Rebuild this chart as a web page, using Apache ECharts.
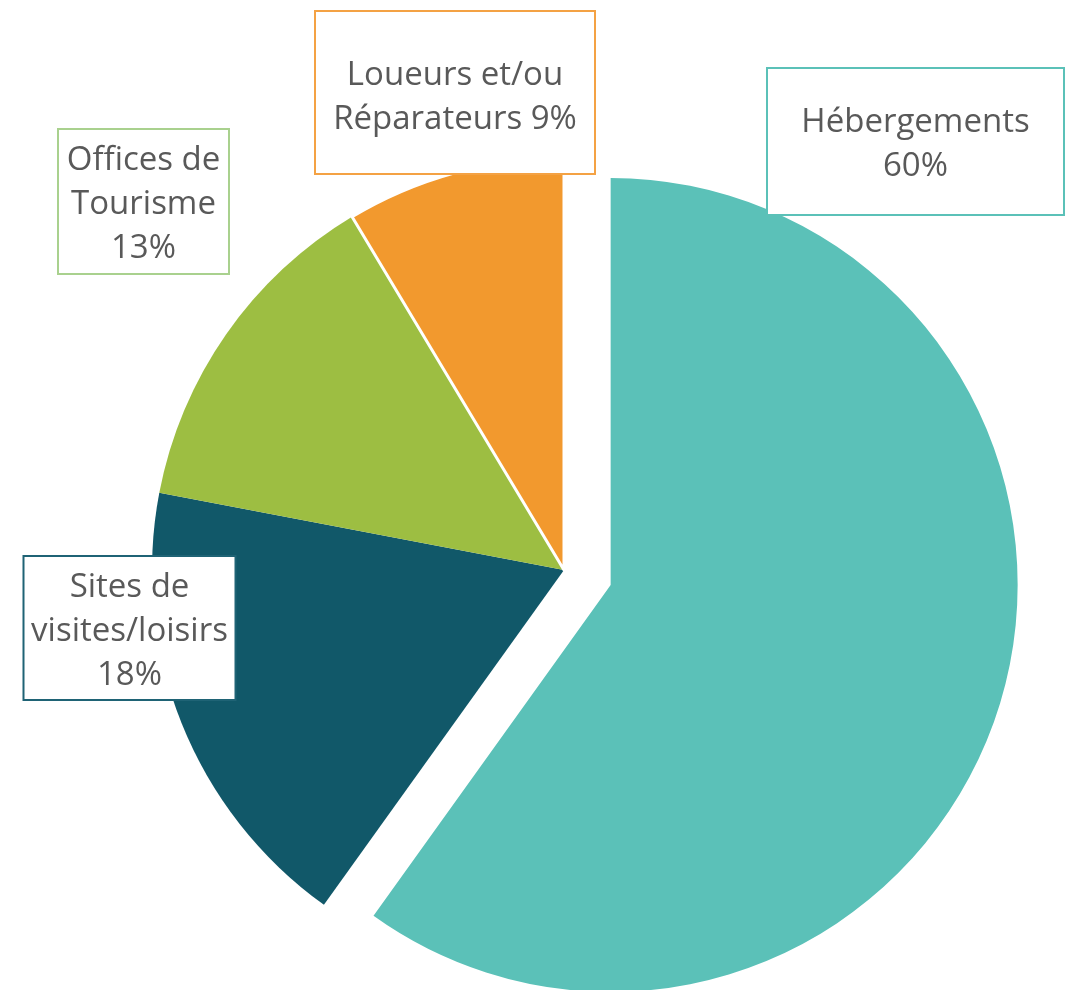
<!DOCTYPE html>
<html>
<head>
<meta charset="utf-8">
<script src="https://cdn.jsdelivr.net/npm/echarts@6/dist/echarts.min.js"></script>
<style>
  html, body { margin: 0; padding: 0; background: #fff; }
  #chart { width: 1065px; height: 990px; }
</style>
</head>
<body>
<div id="chart"></div>
<script>
// données
const categories = ["Hébergements", "Sites de\nvisites/loisirs", "Offices de\nTourisme", "Loueurs et/ou\nRéparateurs"];
const values = [59.9, 18.1, 13.4, 8.6];
const percentLabels = [60, 18, 13, 9];
const separators = ["\n", "\n", "\n", " "];
const exploded = [true, false, false, false];

// styles
const colors = ["#5BC1B8", "#115869", "#9DBE42", "#F2992E"];
const boxBorders = ["#5BC1B8", "#1F6375", "#A9D18E", "#F4A244"];
// [centre x, haut de la boîte]
const boxAnchors = [[915.5, 69], [129.5, 557], [143.5, 130], [455, 12]];
const boxWidths = [295, 210, 169, 278];
const boxPad = [[32, 0, 25, 0], [8.5, 0, 1.5, 0], [8.5, 0, 2.5, 0], [42, 0, 31, 0]];

const chart = echarts.init(document.getElementById("chart"));

const pieCenter = [564, 570];
const pieRadius = 412;
const explodedRadius = 407;
const explodeOffset = 49;

// décalage de la part détachée, le long de sa bissectrice
function explodedCenter() {
  const total = values.reduce((a, b) => a + b, 0);
  let start = 0;
  for (let i = 0; i < values.length; i++) {
    if (exploded[i]) {
      const mid = (start + values[i] / 2) / total * Math.PI * 2;
      return [pieCenter[0] + Math.sin(mid) * explodeOffset, pieCenter[1] - Math.cos(mid) * explodeOffset];
    }
    start += values[i];
  }
  return pieCenter;
}

function buildData(showExploded) {
  return categories.map((name, i) => {
    const visible = exploded[i] === showExploded;
    return {
      name: name,
      value: values[i],
      itemStyle: {
        color: visible ? colors[i] : "rgba(0,0,0,0)",
        borderColor: "#fff",
        borderWidth: visible && i === 3 ? 3 : 0
      },
      label: {
        show: visible,
        formatter: name + separators[i] + percentLabels[i] + "%",
        borderColor: boxBorders[i],
        width: boxWidths[i],
        padding: boxPad[i]
      }
    };
  });
}

const baseSeries = {
  type: "pie",
  startAngle: 90,
  clockwise: true,
  avoidLabelOverlap: false,
  silent: true,
  label: {
    show: true,
    color: "#595959",
    fontFamily: "Open Sans",
    fontSize: 33,
    lineHeight: 44,
    align: "center",
    backgroundColor: "#fff",
    borderWidth: 2,
    overflow: "none"
  },
  labelLine: { show: false },
  emphasis: { disabled: true },
  labelLayout: function (params) {
    const a = boxAnchors[params.dataIndex];
    return { x: a[0], y: a[1], align: "center", verticalAlign: "top" };
  }
};

chart.setOption({
  animation: false,
  series: [
    Object.assign({}, baseSeries, { center: explodedCenter(), radius: explodedRadius, data: buildData(true) }),
    Object.assign({}, baseSeries, { center: pieCenter, radius: pieRadius, data: buildData(false) })
  ]
});
</script>
</body>
</html>
